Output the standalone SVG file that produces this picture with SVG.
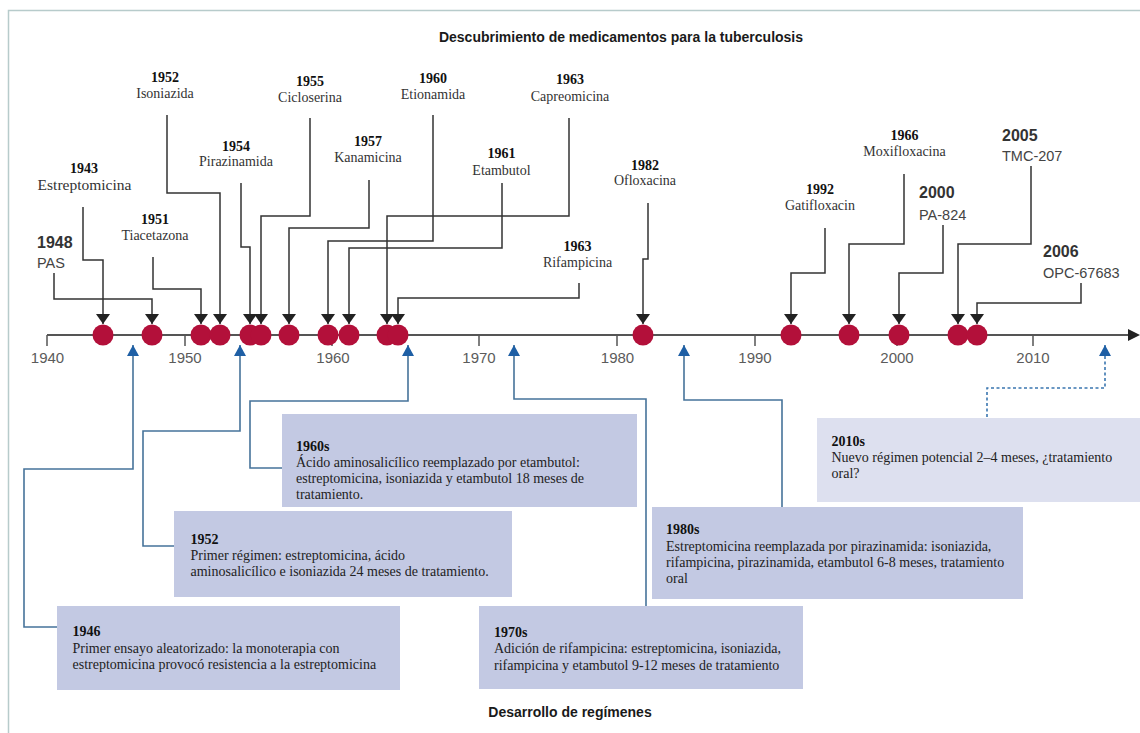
<svg xmlns="http://www.w3.org/2000/svg" width="1140" height="733" viewBox="0 0 1140 733">
<defs>
<style>
.frame{fill:none;stroke:#b7cbcb;stroke-width:1.5}
.title{font-family:"Liberation Sans",Arial,sans-serif;font-weight:bold;font-size:14px;fill:#1a1a1a;text-anchor:middle}
.axis{stroke:#555;stroke-width:2;fill:none}
.tick{stroke:#555;stroke-width:1.5;fill:none}
.yr{font-family:"Liberation Sans",Arial,sans-serif;font-size:15px;fill:#5b5b5b;text-anchor:middle}
.dot{fill:#b3103a}
.lk{fill:none;stroke:#333;stroke-width:1.5}
.bl{fill:none;stroke:#46739a;stroke-width:1.6}
.dash{stroke:#3a76b0;stroke-dasharray:3 2.5}
.sy{font-family:"Liberation Serif","Times New Roman",serif;font-weight:bold;font-size:14px;fill:#111;text-anchor:middle}
.sn{font-family:"Liberation Serif","Times New Roman",serif;font-size:14px;fill:#333;text-anchor:middle}
.ny{font-family:"Liberation Sans",Arial,sans-serif;font-weight:bold;font-size:16px;fill:#333}
.nn{font-family:"Liberation Sans",Arial,sans-serif;font-size:14.5px;fill:#444}
.box{fill:#c3c9e3}
.box2{fill:#dde0ef}
.bt{font-family:"Liberation Serif","Times New Roman",serif;font-size:14px;fill:#222}
.bh{font-family:"Liberation Serif","Times New Roman",serif;font-size:14px;font-weight:bold;fill:#111}
</style>
<marker id="ak" viewBox="0 0 10 14" refX="10" refY="7" markerWidth="10" markerHeight="14" markerUnits="userSpaceOnUse" orient="auto"><path d="M0,0 L10,7 L0,14 Z" fill="#222"/></marker>
<marker id="ab" viewBox="0 0 11 12" refX="11" refY="6" markerWidth="11" markerHeight="12" markerUnits="userSpaceOnUse" orient="auto-start-reverse"><path d="M0,0 L11,6 L0,12 Z" fill="#1e5fa5"/></marker>
</defs>
<rect x="0" y="0" width="1140" height="733" fill="#fff"/>
<rect class="frame" x="8.5" y="10.5" width="1160" height="760"/>
<text class="title" x="621" y="42">Descubrimiento de medicamentos para la tuberculosis</text>

<g id="axis">
<path class="axis" d="M47,335 H1131"/>
<polygon points="1128,329 1140,335 1128,341" fill="#222"/>
<path class="tick" d="M47,335 V346 M185,335 V346 M332,335 V346 M479,335 V346 M617,335 V346 M755,335 V346 M897,335 V346 M1033,335 V346"/>
<text class="yr" x="47.5" y="363">1940</text>
<text class="yr" x="185" y="363">1950</text>
<text class="yr" x="333" y="363">1960</text>
<text class="yr" x="479" y="363">1970</text>
<text class="yr" x="617.5" y="363">1980</text>
<text class="yr" x="755" y="363">1990</text>
<text class="yr" x="897" y="363">2000</text>
<text class="yr" x="1033" y="363">2010</text>
</g>

<g id="connectors">
<g marker-end="url(#ak)">
<path class="lk" d="M83,207 V260 H103 V324"/>
<path class="lk" d="M54,273 V299 H152 V324"/>
<path class="lk" d="M153,257 V289 H201 V324"/>
<path class="lk" d="M167,115 V193 H220 V324"/>
<path class="lk" d="M241,183 V247 H250 V324"/>
<path class="lk" d="M310,118 V216 H261 V324"/>
<path class="lk" d="M369,180 V228 H289 V324"/>
<path class="lk" d="M433,115 V241 H328 V324"/>
<path class="lk" d="M502,183 V248 H349 V324"/>
<path class="lk" d="M569,118 V216 H387 V324"/>
<path class="lk" d="M579,283 V298 H398 V324"/>
<path class="lk" d="M648,203 V259 H643 V324"/>
<path class="lk" d="M825,228 V273 H791 V324"/>
<path class="lk" d="M904,174 V244 H849 V324"/>
<path class="lk" d="M943,225 V273 H899 V324"/>
<path class="lk" d="M1031,166 V244 H958 V324"/>
<path class="lk" d="M1081,283 V303 H977 V324"/>
</g>
<g marker-start="url(#ab)">
<path class="bl" d="M133,345 V469 H24 V627 H57"/>
<path class="bl" d="M240,345 V431 H143 V546 H174"/>
<path class="bl" d="M408,345 V401 H250 V468 H282"/>
<path class="bl" d="M514,345 V399 H646 V606"/>
<path class="bl" d="M684,345 V400 H782 V507"/>
<path class="bl dash" d="M1105,345 V388 H987 V418"/>
</g>
</g>

<g id="drug-1943"><circle class="dot" cx="103" cy="335" r="10.5"/><text class="sy" x="84" y="173">1943</text><text class="sn" x="84.5" y="190" style="font-size:15.5px">Estreptomicina</text></g>
<g id="drug-1948"><circle class="dot" cx="152" cy="335" r="10.5"/><text class="ny" x="37" y="248">1948</text><text class="nn" x="37" y="268">PAS</text></g>
<g id="drug-1951"><circle class="dot" cx="201" cy="335" r="10.5"/><text class="sy" x="155" y="224">1951</text><text class="sn" x="155" y="240">Tiacetazona</text></g>
<g id="drug-1952"><circle class="dot" cx="220" cy="335" r="10.5"/><text class="sy" x="165" y="81.5">1952</text><text class="sn" x="165" y="98">Isoniazida</text></g>
<g id="drug-1954"><circle class="dot" cx="250" cy="335" r="10.5"/><text class="sy" x="236" y="151">1954</text><text class="sn" x="236" y="166">Pirazinamida</text></g>
<g id="drug-1955"><circle class="dot" cx="261" cy="335" r="10.5"/><text class="sy" x="310" y="86">1955</text><text class="sn" x="310" y="101.5">Cicloserina</text></g>
<g id="drug-1957"><circle class="dot" cx="289" cy="335" r="10.5"/><text class="sy" x="368" y="146">1957</text><text class="sn" x="368" y="162">Kanamicina</text></g>
<g id="drug-1960"><circle class="dot" cx="328" cy="335" r="10.5"/><text class="sy" x="433" y="83">1960</text><text class="sn" x="433" y="99">Etionamida</text></g>
<g id="drug-1961"><circle class="dot" cx="349" cy="335" r="10.5"/><text class="sy" x="501.5" y="158">1961</text><text class="sn" x="501.5" y="174.5">Etambutol</text></g>
<g id="drug-1963c"><circle class="dot" cx="387" cy="335" r="10.5"/><text class="sy" x="570" y="84">1963</text><text class="sn" x="570" y="100.5">Capreomicina</text></g>
<g id="drug-1963r"><circle class="dot" cx="398" cy="335" r="10.5"/><text class="sy" x="577.5" y="250.5">1963</text><text class="sn" x="577.5" y="267">Rifampicina</text></g>
<g id="drug-1982"><circle class="dot" cx="643" cy="335" r="10.5"/><text class="sy" x="645" y="170">1982</text><text class="sn" x="645" y="185">Ofloxacina</text></g>
<g id="drug-1992"><circle class="dot" cx="791" cy="335" r="10.5"/><text class="sy" x="820" y="194">1992</text><text class="sn" x="820" y="210">Gatifloxacin</text></g>
<g id="drug-1966"><circle class="dot" cx="849" cy="335" r="10.5"/><text class="sy" x="904.5" y="140">1966</text><text class="sn" x="904.5" y="156">Moxifloxacina</text></g>
<g id="drug-2000"><circle class="dot" cx="899" cy="335" r="10.5"/><text class="ny" x="919" y="198">2000</text><text class="nn" x="919" y="219.5">PA-824</text></g>
<g id="drug-2005"><circle class="dot" cx="958" cy="335" r="10.5"/><text class="ny" x="1002" y="140.5">2005</text><text class="nn" x="1002" y="160.5">TMC-207</text></g>
<g id="drug-2006"><circle class="dot" cx="977" cy="335" r="10.5"/><text class="ny" x="1043" y="257">2006</text><text class="nn" x="1043" y="277.5">OPC-67683</text></g>

<g id="regimen-1960s"><rect class="box" x="282" y="414" width="355" height="93"/>
<text class="bh" x="296" y="451">1960s</text>
<text class="bt" x="296" y="467">Ácido aminosalicílico reemplazado por etambutol:</text>
<text class="bt" x="296" y="483">estreptomicina, isoniazida y etambutol 18 meses de</text>
<text class="bt" x="296" y="499">tratamiento.</text></g>

<g id="regimen-1952"><rect class="box" x="174" y="511" width="338" height="86"/>
<text class="bh" x="190.5" y="544">1952</text>
<text class="bt" x="190.5" y="560">Primer régimen: estreptomicina, ácido</text>
<text class="bt" x="190.5" y="576">aminosalicílico e isoniazida 24 meses de tratamiento.</text></g>

<g id="regimen-1946"><rect class="box" x="57" y="606" width="343" height="84"/>
<text class="bh" x="72.5" y="636">1946</text>
<text class="bt" x="72.5" y="653">Primer ensayo aleatorizado: la monoterapia con</text>
<text class="bt" x="72.5" y="669">estreptomicina provocó resistencia a la estreptomicina</text></g>

<g id="regimen-1970s"><rect class="box" x="479" y="606" width="324" height="83"/>
<text class="bh" x="494" y="637">1970s</text>
<text class="bt" x="494" y="653">Adición de rifampicina: estreptomicina, isoniazida,</text>
<text class="bt" x="494" y="670">rifampicina y etambutol 9-12 meses de tratamiento</text></g>

<g id="regimen-1980s"><rect class="box" x="652" y="507" width="371" height="92"/>
<text class="bh" x="666" y="534">1980s</text>
<text class="bt" x="666" y="550.5">Estreptomicina reemplazada por pirazinamida: isoniazida,</text>
<text class="bt" x="666" y="567">rifampicina, pirazinamida, etambutol 6-8 meses, tratamiento</text>
<text class="bt" x="666" y="583">oral</text></g>

<g id="regimen-2010s"><rect class="box2" x="817" y="418" width="323" height="84"/>
<text class="bh" x="831.5" y="446">2010s</text>
<text class="bt" x="831.5" y="462">Nuevo régimen potencial 2–4 meses, ¿tratamiento</text>
<text class="bt" x="831.5" y="478">oral?</text></g>

<text class="title" x="570" y="717">Desarrollo de regímenes</text>
</svg>
